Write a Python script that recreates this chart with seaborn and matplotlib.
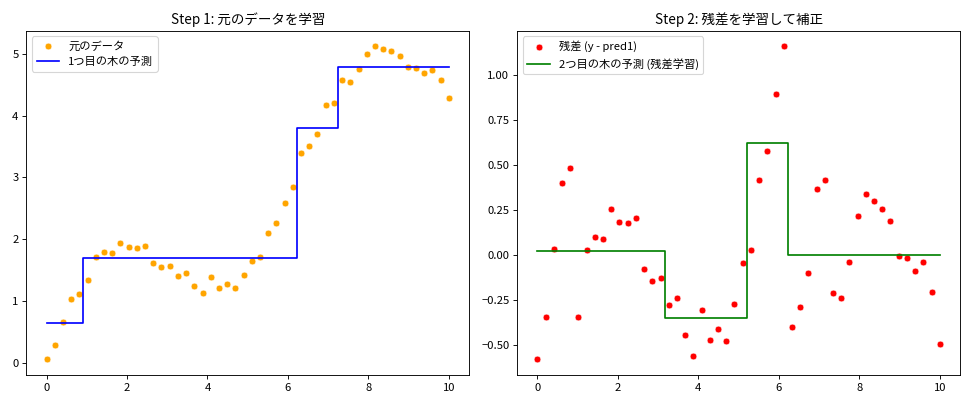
import numpy as np
import pandas as pd
import seaborn as sns
import matplotlib
matplotlib.use('Agg')
import matplotlib.pyplot as plt

plt.rcParams['font.family'] = ['Noto Sans CJK JP', 'DejaVu Sans']

# 50 sample points on 0..10
x = np.linspace(0, 10, 50)

# original data
y = [0.056, 0.290, 0.668, 1.036, 1.118, 1.342, 1.716, 1.787, 1.774, 1.942,
     1.873, 1.864, 1.892, 1.609, 1.542, 1.559, 1.410, 1.447, 1.243, 1.129,
     1.383, 1.215, 1.279, 1.210, 1.415, 1.643, 1.716, 2.101, 2.266, 2.583,
     2.846, 3.395, 3.509, 3.699, 4.166, 4.211, 4.575, 4.544, 4.748, 5.002,
     5.121, 5.084, 5.039, 4.972, 4.779, 4.766, 4.694, 4.744, 4.580, 4.290]

# first tree prediction
pred1 = [0.636] * 5 + [1.688] * 26 + [3.798] * 5 + [4.785] * 14

# residuals (y - pred1)
resid = [-0.580, -0.346, 0.032, 0.400, 0.482, -0.346, 0.028, 0.099, 0.086, 0.254,
         0.185, 0.176, 0.204, -0.079, -0.146, -0.129, -0.278, -0.241, -0.445, -0.559,
         -0.305, -0.473, -0.409, -0.478, -0.273, -0.045, 0.028, 0.413, 0.578, 0.895,
         1.158, -0.403, -0.289, -0.099, 0.368, 0.413, -0.210, -0.241, -0.037, 0.217,
         0.336, 0.299, 0.254, 0.187, -0.006, -0.019, -0.091, -0.041, -0.205, -0.495]

# second tree prediction (fit on residuals)
pred2 = [0.021] * 16 + [-0.348] * 10 + [0.619] * 5 + [-0.002] * 19

df = pd.DataFrame({'x': x, 'y': y, 'pred1': pred1, 'resid': resid, 'pred2': pred2})

fig, axes = plt.subplots(1, 2, figsize=(12, 5), dpi=81)

ax = axes[0]
sns.scatterplot(data=df, x='x', y='y', color='orange', label='元のデータ', ax=ax)
sns.lineplot(data=df, x='x', y='pred1', color='blue', label='1つ目の木の予測',
             drawstyle='steps-mid', ax=ax)
ax.set_title('Step 1: 元のデータを学習')
ax.set_xlabel('')
ax.set_ylabel('')
ax.legend(loc='upper left')

ax = axes[1]
sns.scatterplot(data=df, x='x', y='resid', color='red', label='残差 (y - pred1)', ax=ax)
sns.lineplot(data=df, x='x', y='pred2', color='green', label='2つ目の木の予測 (残差学習)',
             drawstyle='steps-mid', ax=ax)
ax.set_title('Step 2: 残差を学習して補正')
ax.set_xlabel('')
ax.set_ylabel('')
ax.legend(loc='upper left')

plt.tight_layout()
plt.savefig('out.png', dpi=81)
plt.close()
